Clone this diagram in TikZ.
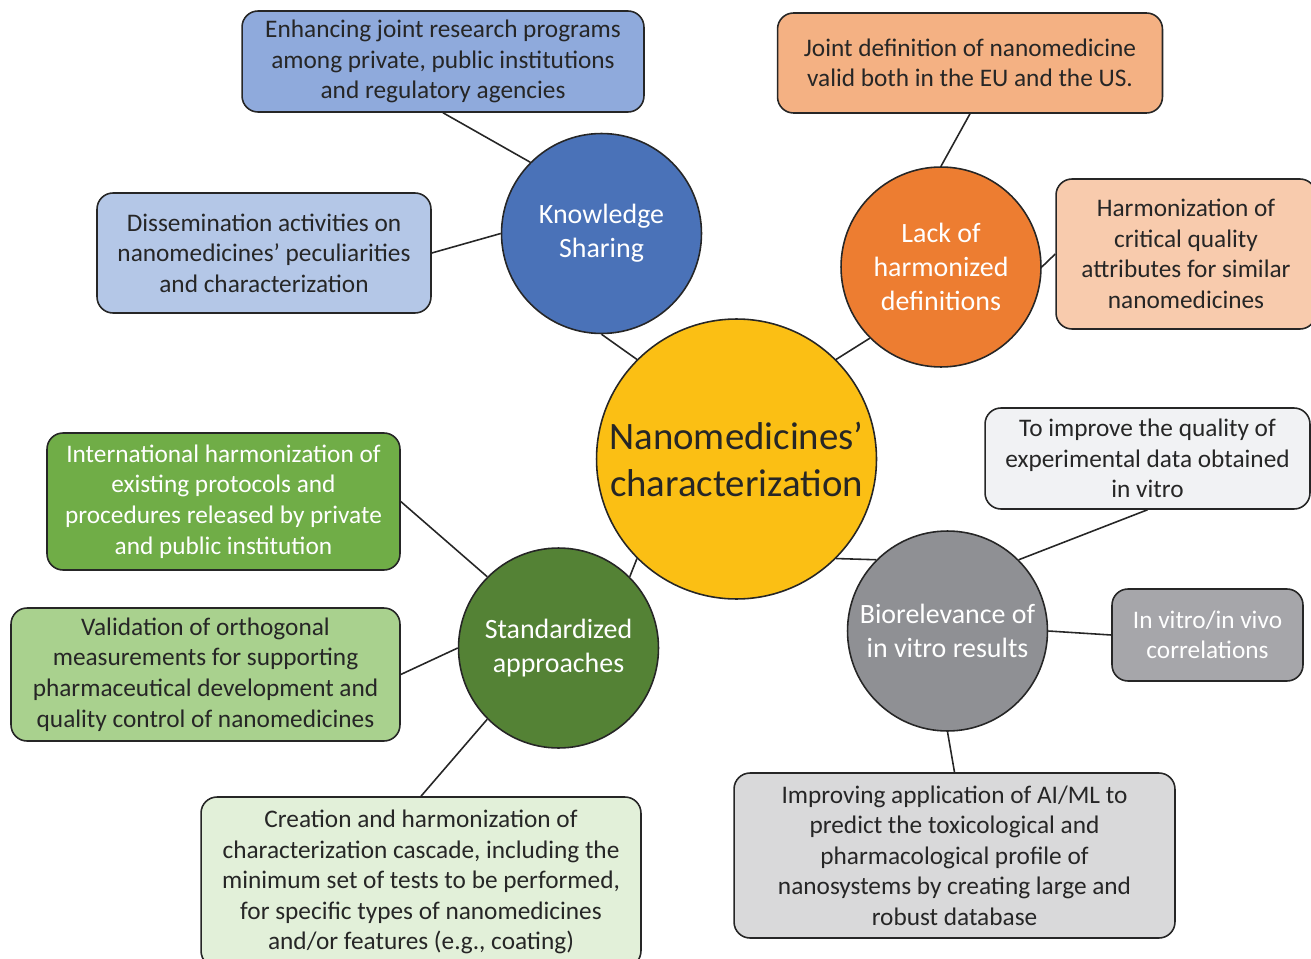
\documentclass[tikz,border=0pt]{standalone}
\usepackage{fontspec}
\setmainfont{Carlito}
\usetikzlibrary{calc}

\definecolor{edge}{HTML}{262626}
\definecolor{ink}{HTML}{262626}
\definecolor{coreFill}{HTML}{FBBF14}
\definecolor{ksFill}{HTML}{4A72B8}
\definecolor{lackFill}{HTML}{ED7D31}
\definecolor{stdFill}{HTML}{548235}
\definecolor{bioFill}{HTML}{8F9094}
\definecolor{enhFill}{HTML}{8FAADC}
\definecolor{disFill}{HTML}{B4C7E7}
\definecolor{jdefFill}{HTML}{F4B183}
\definecolor{cqaFill}{HTML}{F8CBAD}
\definecolor{qualFill}{HTML}{F1F2F4}
\definecolor{ivvFill}{HTML}{A6A6AA}
\definecolor{aimlFill}{HTML}{D9D9DA}
\definecolor{intlFill}{HTML}{70AD47}
\definecolor{valFill}{HTML}{A9D18E}
\definecolor{creFill}{HTML}{E2F0D9}

\newcommand\leaffont{\fontsize{14.4}{17.4}\selectfont}
\newcommand\hubfont{\fontsize{15.9}{19.4}\selectfont}
\newcommand\corefont{\fontsize{22.1}{26.8}\selectfont}

\tikzset{
  hub/.style={circle,draw=edge,line width=0.9pt,minimum size=4cm,inner sep=0pt,
    align=center,text=white,font=\hubfont},
  leaf/.style={rectangle,rounded corners=0.32cm,draw=edge,line width=0.9pt,
    inner sep=0pt,align=center,text=ink,font=\leaffont},
  link/.style={draw=edge,line width=0.9pt}
}

\begin{document}
\begin{tikzpicture}[x=0.02cm,y=-0.02cm]
    \clip (0,0) rectangle (1311,959);

    % centre and branches
    \node (core) [hub,fill=coreFill,minimum size=5.6cm,text=ink,font=\corefont]
      at (736.5,459) {Nanomedicines'\\characterization};
    \node (ks) [hub,fill=ksFill] at (601.5,233.5) {Knowledge\\Sharing};
    \node (lack) [hub,fill=lackFill] at (941,267) {Lack of\\harmonized\\definitions};
    \node (std) [hub,fill=stdFill] at (558.5,648) {Standardized\\approaches};
    \node (bio) [hub,fill=bioFill] at (947.5,631) {Biorelevance of\\in vitro results};

    % knowledge sharing
    \node (enh) [leaf,fill=enhFill,minimum width=8.04cm,minimum height=2.02cm] at (443,61.5)
      {Enhancing joint research programs\\among private, public institutions\\and regulatory agencies};
    \node (dis) [leaf,fill=disFill,minimum width=6.68cm,minimum height=2.4cm] at (264,253)
      {Dissemination activities on\\nanomedicines' peculiarities\\and characterization};

    % definitions
    \node (jdef) [leaf,fill=jdefFill,minimum width=7.7cm,minimum height=2cm] at (970,63)
      {Joint definition of nanomedicine\\valid both in the EU and the US.};
    \node (cqa) [leaf,fill=cqaFill,minimum width=5.2cm,minimum height=3cm] at (1186,254)
      {Harmonization of\\critical quality\\attributes for similar\\nanomedicines};

    % biorelevance
    \node (qual) [leaf,fill=qualFill,minimum width=6.5cm,minimum height=2.02cm] at (1147.5,458.5)
      {To improve the quality of\\experimental data obtained\\in vitro};
    \node (ivv) [leaf,fill=ivvFill,text=white,minimum width=3.82cm,minimum height=1.84cm] at (1207.5,635)
      {In vitro/in vivo\\correlations};
    \node (aiml) [leaf,fill=aimlFill,minimum width=8.82cm,minimum height=3.3cm] at (954.5,855.5)
      {Improving application of AI/ML to\\predict the toxicological and\\pharmacological profile of\\nanosystems by creating large and\\robust database};

    % standardization
    \node (intl) [leaf,fill=intlFill,text=white,minimum width=7.06cm,minimum height=2.74cm] at (223.5,501.5)
      {International harmonization of\\existing protocols and\\procedures released by private\\and public institution};
    \node (val) [leaf,fill=valFill,minimum width=7.78cm,minimum height=2.66cm] at (205.5,674.5)
      {Validation of orthogonal\\measurements for supporting\\pharmaceutical development and\\quality control of nanomedicines};
    \node (cre) [leaf,fill=creFill,minimum width=8.8cm,minimum height=3.4cm] at (421,882)
      {Creation and harmonization of\\characterization cascade, including the\\minimum set of tests to be performed,\\for specific types of nanomedicines\\and/or features (e.g., coating)};

    \draw[link] (ks.south) -- (core.135);
    \draw[link] (lack.225) -- (core.45);
    \draw[link] (core.225) -- (std.45);
    \draw[link] (core.-45) -- (bio.135);

    \draw[link] (enh.south) -- (ks.135);
    \draw[link] (dis.east) -- (ks.west);
    \draw[link] (jdef.south) -- (lack.north);
    \draw[link] (cqa.west) -- (lack.east);
    \draw[link] (qual.south) -- (bio.45);
    \draw[link] (ivv.west) -- (bio.east);
    \draw[link] (bio.south) -- (aiml.north);
    \draw[link] (intl.east) -- (std.135);
    \draw[link] (val.east) -- (std.west);
    \draw[link] (std.225) -- (cre.north);
  \end{tikzpicture}
\end{document}
